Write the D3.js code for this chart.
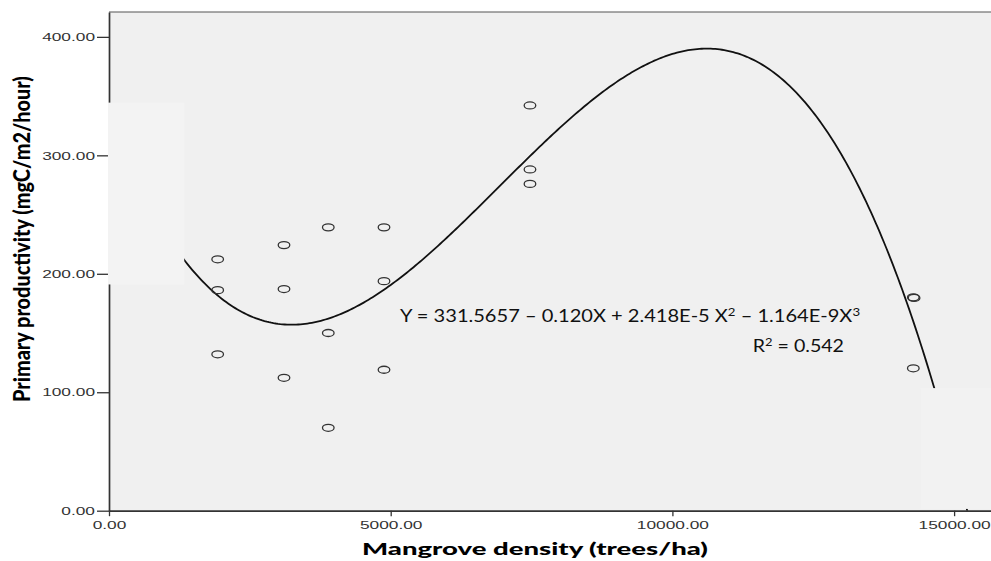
<!DOCTYPE html>
<html><head><meta charset="utf-8">
<script src="https://cdn.jsdelivr.net/npm/d3@7"></script>
<style>body{margin:0;background:#fff}svg{display:block}</style>
</head><body>
<svg id="c" width="991" height="561"></svg>
<script>
// ---- data ----
const densities    = [1929,1929,1929, 3106,3106,3106, 3892,3892,3892, 4881,4881,4881, 7472,7472,7472, 14276,14276,14290];
const productivity = [212.2,186.2,132.0, 224.2,187.1,112.2, 239.2,150.0,70.0, 239.2,193.8,119.0, 342.1,288.1,275.9, 180.1,120.2,179.6];
const xTicks = [0, 5000, 10000, 15000];
const yTicks = [0, 100, 200, 300, 400];
const fitCoefficients = [331.5657, -0.120, 2.418e-5, -1.164e-9]; // cubic fit shown on chart
const xDomain = [0, 15800];
const yDomain = [0, 421];
const xTitle = "Mangrove density (trees/ha)";
const yTitle = "Primary productivity (mgC/m2/hour)";
// equation pieces: [text, isSuperscript]
const equationParts = [["Y = 331.5657 – 0.120X + 2.418E-5 X", false], ["2", true], [" – 1.164E-9X", false], ["3", true]];
const r2Parts = [["R", false], ["2", true], [" = 0.542", false]];

// ---- layout ----
const L = 109, T = 12, B = 510.7, R = 109 + 15800 * 0.05634;
const svg = d3.select("#c");
const x = d3.scaleLinear().domain(xDomain).range([L, R]);
const y = d3.scaleLinear().domain(yDomain).range([B, T]);

svg.append("rect").attr("width", 991).attr("height", 561).attr("fill", "#fff");
svg.append("rect").attr("x", L).attr("y", T).attr("width", R - L).attr("height", B - T).attr("fill", "#f0f0f0");
svg.append("line").attr("x1", L).attr("x2", 991).attr("y1", T).attr("y2", T).attr("stroke", "#555").attr("stroke-width", 1.2);

svg.append("clipPath").attr("id", "clip").append("rect")
  .attr("x", L).attr("y", T).attr("width", R - L).attr("height", B - T);

// fitted curve
const fit = v => fitCoefficients.reduce((s, c, i) => s + c * Math.pow(v, i), 0);
const curveX = d3.range(xDomain[0], xDomain[1] + 1, 40);
svg.append("path")
  .attr("clip-path", "url(#clip)")
  .attr("d", d3.line().x(d => x(d)).y(d => y(fit(d)))(curveX))
  .attr("fill", "none").attr("stroke", "#111").attr("stroke-width", 1.8);

// points
svg.append("g").selectAll("ellipse").data(densities).join("ellipse")
  .attr("cx", d => x(d)).attr("cy", (d, i) => y(productivity[i]))
  .attr("rx", 5.8).attr("ry", 3.5)
  .attr("fill", "none").attr("stroke", "#333").attr("stroke-width", 1.3);

// axes
const fmt = d3.format(".2f");
const tickFont = "'Liberation Sans', Arial, sans-serif";
const yAxis = svg.append("g").attr("transform", `translate(${L},0)`)
  .call(d3.axisLeft(y).tickValues(yTicks).tickFormat(fmt).tickSize(12).tickSizeOuter(0));
const xAxis = svg.append("g").attr("transform", `translate(0,${B})`)
  .call(d3.axisBottom(x).tickValues(xTicks).tickFormat(fmt).tickSize(5.5).tickSizeOuter(0));
[yAxis, xAxis].forEach(a => {
  a.select(".domain").attr("stroke", "#333").attr("stroke-width", 1.7);
  a.selectAll(".tick line").attr("stroke", "#333").attr("stroke-width", 1.3);
  a.selectAll("text").attr("font-family", tickFont).attr("font-size", 10.3).attr("fill", "#333");
});
yAxis.selectAll("text").attr("x", 0).attr("dy", "0.36em")
  .attr("transform", "translate(-14,0) scale(1.68,1)");
xAxis.selectAll("text").attr("x", 0).attr("y", 0).attr("dy", 0)
  .attr("transform", "translate(0,17.8) scale(1.68,1)");

// cover patches present in the reference (data units)
const covers = [
  {x0: -18, x1: 1335, y0: 191, y1: 344.5, fill: "#f3f3f3"},
  {x0: 14410, x1: 15800, y0: 1.5, y1: 103.5, fill: "#f2f2f2"}
];
svg.append("g").selectAll("rect").data(covers).join("rect")
  .attr("x", d => x(d.x0)).attr("width", d => x(d.x1) - x(d.x0))
  .attr("y", d => y(d.y1)).attr("height", d => y(d.y0) - y(d.y1))
  .attr("fill", d => d.fill);

// text helper: fit text horizontally between x0 and x1
function fitText(sel, x0, x1, base, rotate) {
  const w = sel.node().getComputedTextLength();
  const s = (x1 - x0) / w;
  if (rotate) sel.attr("transform", `translate(${base},${x1}) rotate(-90) scale(${s},1)`);
  else sel.attr("transform", `translate(${x0},${base}) scale(${s},1)`);
}
function partsText(parts, size) {
  const t = svg.append("text").attr("font-family", titleFont).attr("font-size", size).attr("fill", "#111");
  let raised = false;
  parts.forEach(([s, sup]) => {
    const ts = t.append("tspan").text(s);
    if (sup && !raised) { ts.attr("dy", -size * 0.38).attr("font-size", size * 0.66); raised = true; }
    else if (!sup && raised) { ts.attr("dy", size * 0.38); raised = false; }
  });
  return t;
}
const titleFont = "Lato, 'Open Sans', sans-serif";
fitText(svg.append("text").text(xTitle).attr("font-family", titleFont).attr("font-weight", "900")
  .attr("font-size", 17.7).attr("fill", "#000"), 362, 708, 555.3);
fitText(svg.append("text").text(yTitle).attr("font-family", titleFont).attr("font-weight", "900")
  .attr("font-size", 22).attr("fill", "#000"), 76, 402, 29.5, true);
fitText(partsText(equationParts, 16.3), 400, 860, 322.3);
fitText(partsText(r2Parts, 16.3), 752.7, 844, 352.3);
</script>
</body></html>
